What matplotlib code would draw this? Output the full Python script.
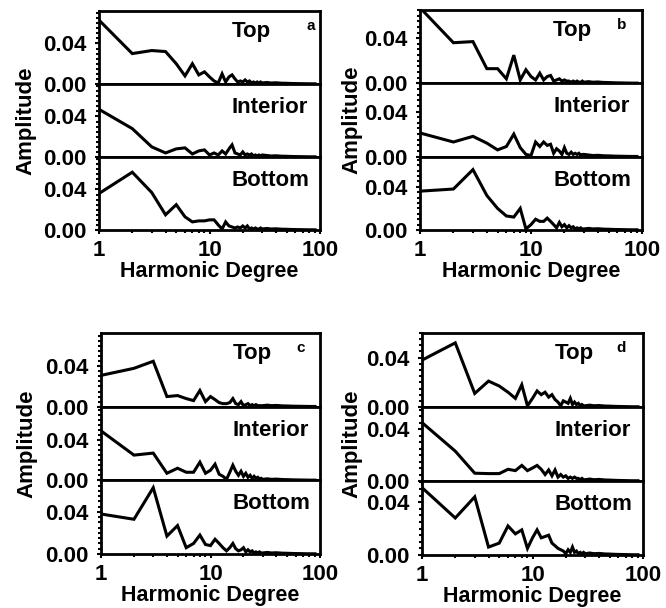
import numpy as np
import matplotlib
matplotlib.use("Agg")
import matplotlib.pyplot as plt
from matplotlib.ticker import FixedLocator, MultipleLocator, LogLocator, NullFormatter

plt.rcParams["font.family"] = ["Liberation Sans", "DejaVu Sans"]
plt.rcParams["font.weight"] = "bold"

# harmonic degrees sampled in every curve
degree = list(range(1, 31)) + [33, 36, 40, 45, 50, 56, 63, 71, 80, 90]

rows = ["Top", "Interior", "Bottom"]
letters = ["a", "b", "c", "d"]

tail = [0.0015, 0.001, 0.0012, 0.0008, 0.0007, 0.0005, 0.0004, 0.0003, 0.0002, 0.0002]

a_top = [0.063, 0.030, 0.033, 0.032, 0.020, 0.008, 0.020, 0.009, 0.012, 0.007,
         0.003, 0.001, 0.010, 0.002, 0.007, 0.009, 0.005, 0.002, 0.003, 0.002,
         0.004, 0.002, 0.003, 0.001, 0.002, 0.001, 0.002, 0.001, 0.002, 0.001] + tail
a_int = [0.047, 0.028, 0.010, 0.004, 0.008, 0.009, 0.003, 0.006, 0.007, 0.002,
         0.004, 0.002, 0.006, 0.003, 0.008, 0.012, 0.004, 0.003, 0.002, 0.005,
         0.002, 0.003, 0.002, 0.003, 0.001, 0.002, 0.001, 0.002, 0.001, 0.002] + tail
a_bot = [0.036, 0.057, 0.037, 0.015, 0.025, 0.013, 0.008, 0.009, 0.009, 0.010,
         0.010, 0.005, 0.001, 0.008, 0.004, 0.003, 0.002, 0.003, 0.002, 0.004,
         0.002, 0.004, 0.001, 0.002, 0.001, 0.002, 0.001, 0.001, 0.002, 0.001] + tail

b_top = [0.067, 0.036, 0.037, 0.013, 0.013, 0.004, 0.025, 0.003, 0.012, 0.006,
         0.003, 0.009, 0.003, 0.006, 0.007, 0.002, 0.003, 0.004, 0.002, 0.003,
         0.002, 0.002, 0.001, 0.002, 0.001, 0.002, 0.001, 0.001, 0.002, 0.001] + tail
b_int = [0.021, 0.013, 0.018, 0.012, 0.006, 0.009, 0.020, 0.008, 0.002, 0.001,
         0.013, 0.009, 0.013, 0.010, 0.011, 0.003, 0.007, 0.005, 0.002, 0.008,
         0.003, 0.002, 0.004, 0.002, 0.003, 0.002, 0.003, 0.001, 0.002, 0.002] + tail
b_bot = [0.036, 0.038, 0.056, 0.032, 0.020, 0.013, 0.012, 0.020, 0.001, 0.005,
         0.010, 0.008, 0.008, 0.011, 0.008, 0.005, 0.002, 0.007, 0.003, 0.005,
         0.002, 0.004, 0.002, 0.003, 0.001, 0.002, 0.001, 0.002, 0.001, 0.001] + tail

c_top = [0.031, 0.038, 0.045, 0.010, 0.011, 0.008, 0.006, 0.016, 0.005, 0.010,
         0.007, 0.004, 0.003, 0.003, 0.004, 0.008, 0.003, 0.002, 0.005, 0.001,
         0.002, 0.003, 0.001, 0.002, 0.001, 0.002, 0.001, 0.001, 0.001, 0.001] + tail
c_int = [0.049, 0.025, 0.027, 0.007, 0.012, 0.008, 0.008, 0.018, 0.007, 0.010,
         0.016, 0.006, 0.004, 0.001, 0.008, 0.015, 0.009, 0.005, 0.009, 0.004,
         0.007, 0.003, 0.005, 0.002, 0.004, 0.002, 0.003, 0.001, 0.002, 0.001] + tail
c_bot = [0.038, 0.033, 0.063, 0.017, 0.027, 0.006, 0.010, 0.018, 0.009, 0.008,
         0.014, 0.010, 0.006, 0.003, 0.006, 0.010, 0.005, 0.003, 0.004, 0.006,
         0.002, 0.004, 0.002, 0.003, 0.001, 0.002, 0.001, 0.002, 0.001, 0.001] + tail

d_top = [0.038, 0.052, 0.011, 0.021, 0.017, 0.012, 0.007, 0.018, 0.001, 0.007,
         0.013, 0.010, 0.012, 0.008, 0.010, 0.006, 0.004, 0.001, 0.005, 0.004,
         0.003, 0.007, 0.002, 0.004, 0.002, 0.003, 0.001, 0.002, 0.001, 0.001] + tail
d_int = [0.045, 0.023, 0.006, 0.0057, 0.0057, 0.009, 0.008, 0.012, 0.008, 0.010,
         0.012, 0.009, 0.005, 0.0085, 0.004, 0.0085, 0.003, 0.005, 0.003, 0.004,
         0.002, 0.003, 0.002, 0.003, 0.002, 0.002, 0.001, 0.002, 0.001, 0.001] + tail
d_bot = [0.051, 0.028, 0.044, 0.006, 0.009, 0.022, 0.016, 0.019, 0.005, 0.013,
         0.019, 0.013, 0.014, 0.015, 0.009, 0.007, 0.005, 0.004, 0.003, 0.001,
         0.004, 0.002, 0.006, 0.002, 0.003, 0.001, 0.002, 0.001, 0.002, 0.001] + tail

panels = [[a_top, a_int, a_bot], [b_top, b_int, b_bot],
          [c_top, c_int, c_bot], [d_top, d_int, d_bot]]
ymax = [[0.072, 0.072, 0.072], [0.065, 0.065, 0.068],
        [0.073, 0.073, 0.070], [0.060, 0.057, 0.056]]

W, H = 666, 608
# panel boxes in pixels: left, right, top, bottom
boxes = [(99, 320, 11, 230), (420, 642, 10, 230),
         (101, 320, 333, 554), (422, 643, 333, 555)]
letter_x = [0.96, 0.91, 0.91, 0.90]
ylab_x = [-0.285, -0.26, -0.29, -0.27]
xlab_pad = [0, 0, 0, 0]

fig = plt.figure(figsize=(W / 100, H / 100), dpi=100)
fs = 16

for p, (l, r, t, b) in enumerate(boxes):
    rh = (b - t) / 3
    for i in range(3):
        top = t + i * rh
        ax = fig.add_axes([l / W, 1 - (top + rh) / H, (r - l) / W, rh / H])
        ax.plot(degree, panels[p][i], color="black", lw=2.2, solid_joinstyle="miter")
        ax.set_xscale("log")
        ax.set_xlim(1, 100)
        ax.set_ylim(0, ymax[p][i])
        ax.yaxis.set_major_locator(FixedLocator([0.0, 0.04]))
        ax.yaxis.set_minor_locator(MultipleLocator(0.005))
        ax.yaxis.set_major_formatter(plt.FuncFormatter(lambda v, pos: f"{v:.2f}"))
        ax.xaxis.set_major_locator(FixedLocator([1, 10, 100]))
        ax.xaxis.set_minor_locator(LogLocator(base=10, subs=np.arange(2, 10)))
        ax.xaxis.set_minor_formatter(NullFormatter())
        for s in ax.spines.values():
            s.set_linewidth(2.0)
        ax.tick_params(which="both", direction="out", width=1.5, labelsize=fs,
                       top=False, right=False)
        ax.tick_params(which="major", length=3, pad=4)
        ax.tick_params(axis="y", which="major", pad=6)
        ax.tick_params(which="minor", length=2)
        if i < 2:
            ax.set_xticklabels([])
        else:
            ax.set_xticklabels(["1", "10", "100"])
            ax.set_xlabel("Harmonic Degree", fontsize=15.5, fontweight="bold",
                          labelpad=xlab_pad[p])
        if i == 1:
            ax.set_ylabel("Amplitude", fontsize=fs, fontweight="bold")
            ax.yaxis.set_label_coords(ylab_x[p], 0.5)
        ty = 0.72 if i == 0 else 0.68
        ax.text(0.60, ty, rows[i], transform=ax.transAxes, fontsize=fs,
                fontweight="bold", ha="left", va="center")
        if i == 0:
            ax.text(letter_x[p], 0.80, letters[p], transform=ax.transAxes,
                    fontsize=11, fontweight="bold", ha="center", va="center")

fig.savefig("out.png", dpi=100)
